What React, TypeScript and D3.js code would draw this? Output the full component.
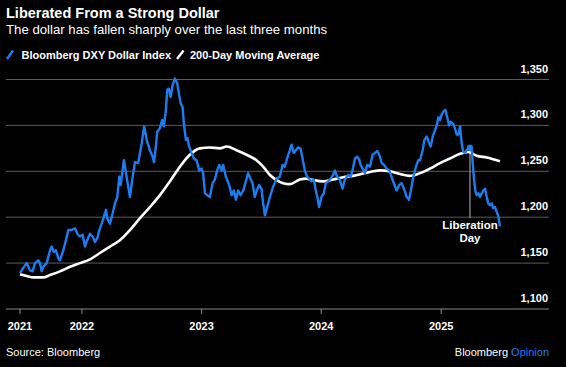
import React from "react";
import * as d3 from "d3";

// Dates as decimal years, values of the Bloomberg Dollar Spot Index
const dxyDates = [
  2021.482, 2021.505, 2021.538, 2021.566, 2021.588, 2021.607, 2021.635, 2021.649, 2021.663, 2021.677,
  2021.705, 2021.733, 2021.747, 2021.766, 2021.783, 2021.802, 2021.816, 2021.844, 2021.866, 2021.886,
  2021.914, 2021.942, 2021.961, 2021.983, 2022.006, 2022.025, 2022.044, 2022.067, 2022.089, 2022.109,
  2022.128, 2022.145, 2022.165, 2022.184, 2022.201, 2022.211, 2022.234, 2022.256, 2022.276, 2022.295,
  2022.312, 2022.323, 2022.351, 2022.373, 2022.401, 2022.424, 2022.443, 2022.470, 2022.499, 2022.520,
  2022.541, 2022.568, 2022.591, 2022.602, 2022.618, 2022.629, 2022.652, 2022.671, 2022.685, 2022.702,
  2022.713, 2022.727, 2022.741, 2022.758, 2022.777, 2022.796, 2022.810, 2022.825, 2022.841, 2022.852,
  2022.869, 2022.883, 2022.896, 2022.916, 2022.936, 2022.958, 2022.980, 2023.000, 2023.013, 2023.028,
  2023.047, 2023.069, 2023.092, 2023.111, 2023.130, 2023.147, 2023.167, 2023.180, 2023.203, 2023.231,
  2023.251, 2023.270, 2023.287, 2023.306, 2023.326, 2023.348, 2023.370, 2023.389, 2023.409, 2023.426,
  2023.445, 2023.459, 2023.481, 2023.501, 2023.515, 2023.529, 2023.548, 2023.571, 2023.598, 2023.627,
  2023.654, 2023.677, 2023.696, 2023.715, 2023.738, 2023.752, 2023.771, 2023.788, 2023.807, 2023.827,
  2023.844, 2023.863, 2023.882, 2023.899, 2023.919, 2023.938, 2023.955, 2023.969, 2023.982, 2024.002,
  2024.022, 2024.038, 2024.058, 2024.078, 2024.099, 2024.114, 2024.133, 2024.155, 2024.178, 2024.197,
  2024.225, 2024.245, 2024.261, 2024.281, 2024.300, 2024.317, 2024.328, 2024.345, 2024.364, 2024.383,
  2024.406, 2024.428, 2024.448, 2024.467, 2024.484, 2024.504, 2024.523, 2024.545, 2024.567, 2024.587,
  2024.606, 2024.629, 2024.651, 2024.671, 2024.690, 2024.713, 2024.732, 2024.748, 2024.768, 2024.790,
  2024.809, 2024.824, 2024.846, 2024.860, 2024.880, 2024.896, 2024.913, 2024.930, 2024.949, 2024.963,
  2024.977, 2024.991, 2025.005, 2025.018, 2025.035, 2025.052, 2025.066, 2025.080, 2025.097, 2025.110,
  2025.130, 2025.144, 2025.158, 2025.172, 2025.185, 2025.200, 2025.214, 2025.227, 2025.241, 2025.256,
  2025.264, 2025.275, 2025.286, 2025.297, 2025.311, 2025.325, 2025.339, 2025.353, 2025.367, 2025.381,
  2025.394, 2025.408, 2025.423, 2025.436, 2025.450, 2025.464, 2025.478, 2025.492,
];
const dxyValues = [
  1139, 1144, 1150, 1142, 1141, 1150, 1153, 1150, 1141, 1146,
  1150, 1164, 1168, 1162, 1164, 1155, 1153, 1164, 1175, 1186,
  1186, 1188, 1182, 1179, 1181, 1168, 1175, 1182, 1179, 1173,
  1177, 1186, 1193, 1201, 1208, 1199, 1193, 1204, 1215, 1222,
  1244, 1235, 1262, 1244, 1222, 1244, 1260, 1259, 1280, 1299,
  1284, 1273, 1266, 1260, 1277, 1293, 1297, 1306, 1299, 1317,
  1339, 1340, 1331, 1344, 1351, 1346, 1335, 1324, 1320, 1302,
  1284, 1286, 1277, 1270, 1264, 1262, 1251, 1253, 1248, 1226,
  1224, 1222, 1237, 1241, 1251, 1257, 1251, 1257, 1244, 1235,
  1224, 1229, 1219, 1229, 1224, 1229, 1239, 1248, 1242, 1237,
  1222, 1228, 1235, 1231, 1215, 1202, 1211, 1222, 1233, 1242,
  1244, 1257, 1255, 1264, 1273, 1279, 1270, 1273, 1276, 1275,
  1264, 1251, 1244, 1242, 1239, 1241, 1229, 1221, 1211, 1222,
  1226, 1237, 1239, 1242, 1246, 1251, 1244, 1241, 1231, 1241,
  1246, 1244, 1251, 1264, 1266, 1263, 1257, 1253, 1248, 1257,
  1255, 1268, 1270, 1272, 1268, 1259, 1257, 1253, 1251, 1244,
  1237, 1229, 1235, 1237, 1231, 1222, 1219, 1229, 1244, 1255,
  1262, 1262, 1273, 1284, 1288, 1282, 1277, 1288, 1295, 1300,
  1309, 1306, 1312, 1315, 1317, 1308, 1300, 1304, 1302, 1299,
  1290, 1290, 1299, 1280, 1271, 1270, 1273, 1275, 1276, 1273,
  1259, 1241, 1229, 1224, 1226, 1222, 1226, 1229, 1231, 1222,
  1215, 1213, 1215, 1210, 1211, 1206, 1201, 1190,
];

const maDates = [
  2021.482, 2021.538, 2021.593, 2021.677, 2021.733, 2021.816, 2021.900, 2021.983, 2022.067, 2022.150,
  2022.234, 2022.317, 2022.401, 2022.485, 2022.568, 2022.652, 2022.735, 2022.819, 2022.902, 2022.986,
  2023.069, 2023.153, 2023.209, 2023.292, 2023.376, 2023.459, 2023.515, 2023.571, 2023.627, 2023.682,
  2023.738, 2023.821, 2023.877, 2023.932, 2024.016, 2024.099, 2024.183, 2024.266, 2024.378, 2024.489,
  2024.573, 2024.656, 2024.740, 2024.824, 2024.907, 2024.991, 2025.074, 2025.158, 2025.227, 2025.297,
  2025.381, 2025.492,
];
const maValues = [
  1138, 1136, 1134.5, 1134.5, 1137, 1141, 1146, 1150, 1154, 1161,
  1168, 1175, 1186, 1199, 1211, 1224, 1239, 1255, 1268, 1275,
  1276, 1275, 1277, 1273, 1268, 1262, 1255, 1246, 1240.5, 1237,
  1236, 1241, 1242, 1240.5, 1239, 1241, 1243.5, 1245, 1248.5, 1251,
  1250, 1247, 1245, 1248, 1253, 1259, 1264, 1269, 1271, 1267,
  1265, 1261,
];

const yTicks = [1100, 1150, 1200, 1250, 1300, 1350];
const xTickDates = [2021.482, 2022, 2023, 2024, 2025];
const xTickLabels = ["2021", "2022", "2023", "2024", "2025"];
const liberationDay = 2025.241;

const W = 566;
const H = 367;
const BLUE = "#1a7ef2";
const FONT = "'Liberation Sans', Arial, Helvetica, sans-serif";

function toDate(d: number): Date {
  const y = Math.floor(d);
  const s = Date.UTC(y, 0, 1);
  const e = Date.UTC(y + 1, 0, 1);
  return new Date(s + (d - y) * (e - s));
}

export default function App() {
  const x = d3
    .scaleUtc()
    .domain([toDate(dxyDates[0]), toDate(dxyDates[dxyDates.length - 1])])
    .range([20, 500]);
  const y = d3.scaleLinear().domain([1100, 1350]).range([309, 79.5]);

  const dxy = dxyDates.map((d, i) => ({ d: toDate(d), v: dxyValues[i] }));
  const ma = maDates.map((d, i) => ({ d: toDate(d), v: maValues[i] }));

  const line = d3
    .line<{ d: Date; v: number }>()
    .x((p) => x(p.d))
    .y((p) => y(p.v));
  const maLine = d3
    .line<{ d: Date; v: number }>()
    .x((p) => x(p.d))
    .y((p) => y(p.v))
    .curve(d3.curveMonotoneX);

  const gridLeft = 6;
  const gridRight = 549;

  const libDate = toDate(liberationDay);
  const libIdx = dxyDates.indexOf(liberationDay);
  const libX = x(libDate);
  const libY = y(dxyValues[libIdx]);

  return (
    <svg
      width={W}
      height={H}
      style={{ position: "absolute", left: 0, top: 0, background: "#000", display: "block" }}
      fontFamily={FONT}
    >
      <rect x={0} y={0} width={W} height={H} fill="#000" />
      <text x={6} y={18} fill="#fff" fontSize={14.5} fontWeight="bold">
        Liberated From a Strong Dollar
      </text>
      <text x={6} y={34} fill="#fff" fontSize={13.2}>
        The dollar has fallen sharply over the last three months
      </text>

      {/* legend */}
      <line x1={7} y1={59} x2={13} y2={50.5} stroke={BLUE} strokeWidth={2.4} />
      <text x={21.5} y={59} fill="#fff" fontSize={11} fontWeight="bold">
        Bloomberg DXY Dollar Index
      </text>
      <line x1={177} y1={59} x2={183.5} y2={50.5} stroke="#fff" strokeWidth={2.4} />
      <text x={190} y={59} fill="#fff" fontSize={11} fontWeight="bold">
        200-Day Moving Average
      </text>

      {/* grid */}
      {yTicks.map((t) =>
        t === 1100 ? null : (
          <line key={t} x1={gridLeft} x2={gridRight} y1={y(t)} y2={y(t)} stroke="#5c5c5c" strokeWidth={1} />
        )
      )}
      {yTicks.map((t) => (
        <text
          key={"l" + t}
          x={548}
          y={y(t) - 7}
          fill="#fff"
          fontSize={11}
          fontWeight="bold"
          textAnchor="end"
        >
          {d3.format(",")(t)}
        </text>
      ))}

      {/* x axis */}
      <line x1={gridLeft} x2={gridRight} y1={y(1100)} y2={y(1100)} stroke="#8a8a8a" strokeWidth={1} />
      {xTickDates.map((t, i) => {
        const tx = x(toDate(t));
        return (
          <g key={"x" + t}>
            <line x1={tx} x2={tx} y1={y(1100)} y2={y(1100) + 5} stroke="#8a8a8a" />
            <text x={tx} y={330} fill="#fff" fontSize={11} fontWeight="bold" textAnchor="middle">
              {xTickLabels[i]}
            </text>
          </g>
        );
      })}

      {/* annotation */}
      <line x1={libX} x2={libX} y1={libY + 2} y2={218} stroke="#9a9a9a" strokeWidth={1.2} />

      {/* series */}
      <path d={maLine(ma) || ""} fill="none" stroke="#fff" strokeWidth={2.6} strokeLinejoin="round" />
      <path d={line(dxy) || ""} fill="none" stroke={BLUE} strokeWidth={2.4} strokeLinejoin="round" />
      <circle cx={libX} cy={libY} r={3} fill={BLUE} />

      <text x={libX} y={229} fill="#fff" fontSize={11.5} fontWeight="bold" textAnchor="middle">
        Liberation
      </text>
      <text x={libX} y={242} fill="#fff" fontSize={11.5} fontWeight="bold" textAnchor="middle">
        Day
      </text>

      {/* footer */}
      <text x={6} y={356} fill="#fff" fontSize={11}>
        Source: Bloomberg
      </text>
      <text x={549} y={356} fontSize={11} textAnchor="end">
        <tspan fill="#fff">Bloomberg </tspan>
        <tspan fill={BLUE}>Opinion</tspan>
      </text>
    </svg>
  );
}
